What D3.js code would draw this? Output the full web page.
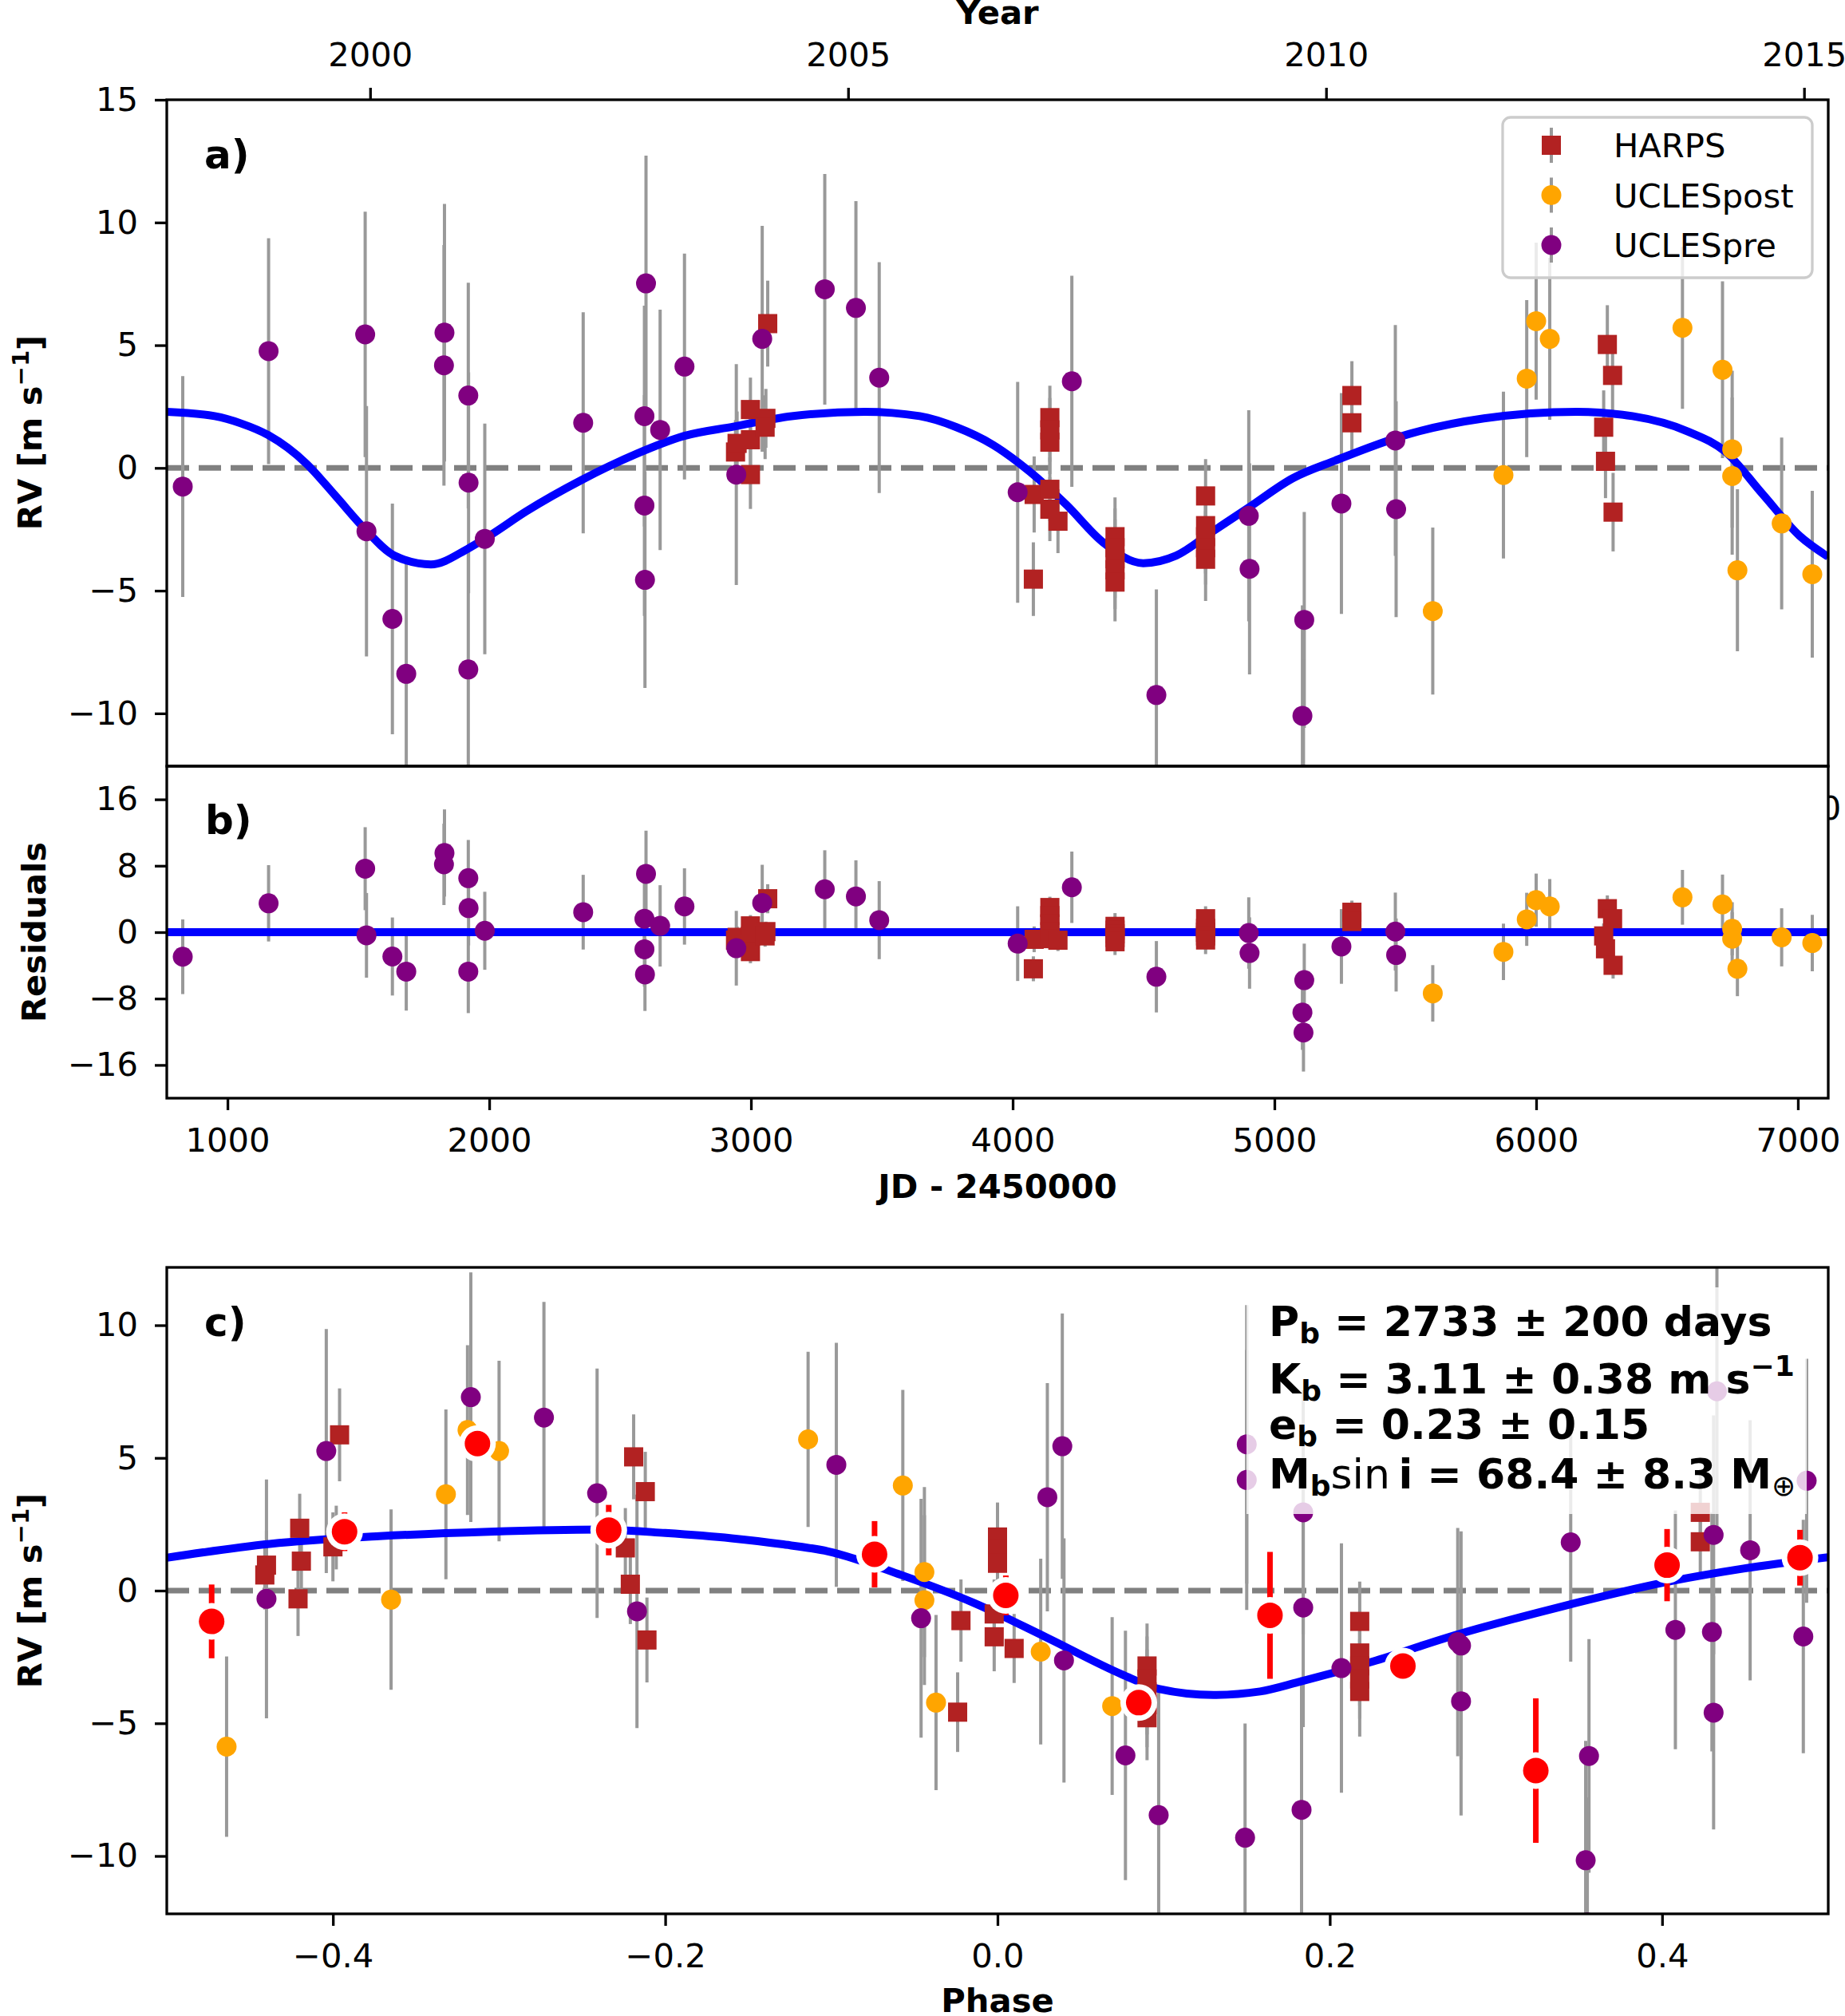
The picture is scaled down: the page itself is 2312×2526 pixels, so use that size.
<!DOCTYPE html>
<html lang="en">
<head>
<meta charset="UTF-8"/>
<script src="https://d3js.org/d3.v7.min.js"></script>
<style>
body { margin: 0; background: #fff; }
svg { display: block; font-family: 'DejaVu Sans', sans-serif; }
text { fill: #000; }
.tick text { font-size: 41.7px; font-family: 'DejaVu Sans', sans-serif; }
.tick line { stroke: #000; stroke-width: 3.3; }
.axis_title { font-size: 41.7px; font-weight: bold; }
.panel_label { font-size: 50px; font-weight: bold; }
.legend text { font-size: 41.7px; }
.params text { font-size: 52px; font-weight: bold; }
</style>
</head>
<body>
<svg id="fig" width="2312" height="2526"></svg>
<script>
// ---- data: [JD-2450000, RV, err, residual]
const harps = [
  [2941, 0.65, 1.3, -0.96], [2947, 1.0, 1.3, -0.62], [2998, 2.38, 1.3, 0.76],
  [2998, 1.15, 1.5, -0.5], [2998, -0.27, 1.4, -2.34], [3057, 2.02, 1.2, 0.07],
  [3054, 1.66, 1.3, -0.45], [3064, 5.88, 1.75, 4.03],
  [4082, -1.08, 1.55, -0.86], [4079, -4.53, 1.5, -4.41],
  [4142, 2.05, 1.3, 2.97], [4142, 1.55, 1.3, 2.0], [4142, 1.05, 1.3, 1.0],
  [4142, -0.87, 1.3, 0.05], [4142, -1.68, 1.3, -0.78], [4173, -2.17, 1.3, -0.97],
  [4391, -2.8, 1.6, 0.7], [4391, -3.25, 1.6, 0.25], [4391, -3.7, 1.6, -0.2],
  [4391, -4.15, 1.6, -0.65], [4391, -4.65, 1.6, -1.15],
  [4737, -1.14, 1.5, 1.62], [4737, -2.35, 1.5, 0.46], [4737, -2.8, 1.5, 0.0],
  [4737, -3.25, 1.5, -0.45], [4737, -3.72, 1.7, -0.94],
  [5296, 2.95, 1.4, 2.4], [5296, 1.84, 1.4, 1.29],
  [6272, 5.03, 1.6, 2.83], [6292, 3.77, 1.5, 1.62], [6258, 1.66, 1.5, -0.45],
  [6265, 0.27, 1.5, -2.0], [6294, -1.8, 1.6, -3.99]
];
const uclesPost = [
  [5605, -5.83, 3.4, -7.37], [5875, -0.29, 3.4, -2.37], [5964, 3.64, 3.2, 1.55],
  [6000, 5.98, 3.2, 3.86], [6052, 5.26, 3.3, 3.1], [6559, 5.71, 3.3, 4.2],
  [6712, 4.0, 3.6, 3.34], [6749, 0.76, 3.2, 0.41], [6749, -0.33, 3.2, -0.79],
  [6769, -4.17, 3.3, -4.41], [6938, -2.26, 3.5, -0.62], [7055, -4.33, 3.4, -1.31]
];
const uclesPre = [
  [829, -0.76, 4.5, -2.96], [1157, 4.76, 4.6, 3.48], [1526, 5.44, 5.0, 7.65],
  [1531, -2.58, 5.1, -0.38], [1630, -6.15, 4.7, -2.93], [1683, -8.39, 4.7, -4.75],
  [1829, 5.51, 5.25, 9.54], [1827, 4.18, 4.9, 8.17], [1920, 2.95, 4.6, 6.51],
  [1921, -0.6, 4.5, 2.9], [1920, -8.21, 5.0, -4.75], [1983, -2.89, 4.7, 0.17],
  [2359, 1.84, 4.5, 2.41], [2599, 7.52, 5.2, 7.03], [2593, 2.11, 4.5, 1.62],
  [2593, -1.53, 4.5, -2.06], [2595, -4.56, 4.4, -5.09], [2653, 1.55, 4.9, 0.76],
  [2746, 4.13, 4.6, 3.1], [2944, -0.27, 4.5, -1.93], [3043, 5.26, 4.6, 3.52],
  [3282, 7.28, 4.7, 5.17], [3401, 6.52, 4.35, 4.31], [3490, 3.68, 4.7, 1.45],
  [4019, -0.99, 4.5, -1.38], [4226, 3.53, 4.3, 5.41], [4549, -9.25, 4.3, -5.37],
  [4902, -1.95, 4.3, -0.1], [4905, -4.11, 4.3, -2.51], [5114, -6.19, 4.4, -5.78],
  [5107, -10.1, 4.5, -9.68], [5111, -12.5, 4.7, -12.09], [5256, -1.45, 4.5, -1.72],
  [5462, 1.12, 4.7, 0.07], [5465, -1.68, 4.4, -2.75]
];

// ---- phase folded data: [phase, RV, err]
const harpsPhase = [
  [-0.440, 0.96, 1.3], [-0.441, 0.59, 1.3], [-0.420, 2.35, 1.3], [-0.419, 1.11, 1.5],
  [-0.421, -0.31, 1.4], [-0.396, 5.87, 1.75], [-0.400, 1.65, 1.3], [-0.398, 2.0, 1.2],
  [0.000, 2.02, 1.3], [0.000, 1.55, 1.3], [0.000, 1.03, 1.3], [-0.002, -0.88, 1.3],
  [-0.002, -1.74, 1.3], [0.010, -2.18, 1.3], [-0.022, -1.13, 1.55], [-0.024, -4.58, 1.5],
  [0.090, -2.84, 1.6], [0.090, -3.33, 1.6], [0.090, -3.82, 1.6], [0.090, -4.3, 1.6], [0.090, -4.79, 1.6],
  [0.218, -1.16, 1.5], [0.218, -2.35, 1.5], [0.218, -2.84, 1.5], [0.218, -3.33, 1.5], [0.218, -3.8, 1.7],
  [0.423, 2.95, 1.4], [0.423, 1.84, 1.4],
  [-0.219, 5.04, 1.6], [-0.212, 3.73, 1.5], [-0.224, 1.61, 1.5], [-0.221, 0.24, 1.5], [-0.211, -1.86, 1.6]
];
const uclesPostPhase = [
  [-0.464, -5.88, 3.4], [-0.365, -0.34, 3.4], [-0.332, 3.63, 3.2], [-0.319, 6.05, 3.2],
  [-0.300, 5.26, 3.4], [-0.114, 5.70, 3.3], [-0.057, 3.96, 3.6], [-0.044, 0.70, 3.2],
  [-0.044, -0.36, 3.2], [-0.037, -4.22, 3.3], [0.026, -2.30, 3.5], [0.069, -4.35, 3.35]
];
const uclesPrePhase = [
  [-0.440, -0.31, 4.5], [-0.404, 5.26, 4.6], [-0.317, 7.29, 4.7], [-0.273, 6.52, 4.36],
  [-0.241, 3.67, 4.7], [-0.217, -0.78, 4.4], [-0.097, 4.74, 4.6], [-0.046, -1.04, 4.5],
  [0.030, 3.52, 4.3], [0.039, 5.44, 5.0], [0.040, -2.63, 4.6], [0.077, -6.21, 4.7],
  [0.097, -8.46, 4.7], [0.149, -9.31, 4.3], [0.150, 5.51, 5.25], [0.150, 4.17, 4.9],
  [0.184, 2.95, 4.6], [0.184, -0.64, 4.5], [0.183, -8.26, 5.0], [0.207, -2.92, 4.7],
  [0.277, -1.94, 4.3], [0.279, -2.07, 4.3], [0.279, -4.17, 4.3], [0.345, 1.82, 4.5],
  [0.356, -6.23, 4.4], [0.354, -10.16, 4.5], [0.355, -12.5, 4.7], [0.408, -1.48, 4.5],
  [0.431, 2.10, 4.5], [0.430, -1.56, 4.5], [0.431, -4.6, 4.4], [0.433, 7.51, 5.2],
  [0.453, 1.52, 4.9], [0.485, -1.73, 4.4], [0.487, 4.14, 4.6]
];
const binned = [
  [-0.473, -1.16, 1.39], [-0.393, 2.22, 0.73], [-0.313, 5.54, 0.5], [-0.234, 2.28, 0.95],
  [-0.074, 1.37, 1.25], [0.005, -0.18, 0.75], [0.085, -4.22, 0.5], [0.164, -0.93, 2.39],
  [0.244, -2.84, 0.5], [0.324, -6.78, 2.72], [0.403, 0.96, 1.36], [0.483, 1.24, 1.05]
];

// ---- model curve
const modelJD = [768, 951, 1050, 1157, 1230, 1301, 1413, 1525, 1637, 1777, 1917, 2001, 2141, 2351,
  2561, 2743, 2936, 3155, 3435, 3645, 3785, 3925, 4065, 4205, 4345, 4499, 4625, 4765, 4905, 5070,
  5232, 5516, 5800, 6155, 6368, 6581, 6722, 6864, 7006, 7116];
const modelRV = [2.29, 2.11, 1.82, 1.33, 0.82, 0.18, -1.14, -2.49, -3.57, -3.93, -3.3, -2.76, -1.77, -0.5,
  0.57, 1.3, 1.69, 2.11, 2.29, 2.11, 1.66, 0.94, -0.15, -1.5, -3.03, -3.88, -3.57, -2.58, -1.59, -0.42,
  0.3, 1.39, 2.02, 2.29, 2.11, 1.48, 0.67, -1.05, -2.76, -3.62];
const modelPhase = [-0.5, -0.438, -0.372, -0.306, -0.240, -0.2, -0.16, -0.13, -0.102, -0.058, -0.014,
  0.030, 0.075, 0.097, 0.130, 0.158, 0.181, 0.226, 0.270, 0.337, 0.404, 0.449, 0.5];
const modelPhaseRV = [1.24, 1.76, 2.05, 2.22, 2.30, 2.17, 1.97, 1.75, 1.48, 0.59, -0.47,
  -1.78, -3.16, -3.70, -3.93, -3.8, -3.45, -2.67, -1.78, -0.64, 0.34, 0.83, 1.26];

const yTicksA = [-10, -5, 0, 5, 10, 15];
const yTicksB = [-16, -8, 0, 8, 16];
const yTicksC = [-10, -5, 0, 5, 10];
const jdTicks = [1000, 2000, 3000, 4000, 5000, 6000, 7000];
const yearTicks = [2000, 2005, 2010, 2015];
const phaseTicks = [-0.4, -0.2, 0.0, 0.2, 0.4];

// ---- layout
const L = 209, R = 2291;
const aTop = 125, aBot = 960, bBot = 1376, cTop = 1588, cBot = 2398;
const GRAY = '#999999', PURPLE = '#800080', ORANGE = '#ffa500', FIREBRICK = '#b22222';

const svg = d3.select('#fig');
svg.append('rect').attr('width', 2312).attr('height', 2526).attr('fill', '#fff');

const x = d3.scaleLinear().domain([768, 7116]).range([L, R]);
const xYear = d3.scaleLinear().domain([1997.873, 2015.253]).range([L, R]);
const ya = d3.scaleLinear().domain([-12.15, 15]).range([aBot, aTop]);
const yb = d3.scaleLinear().domain([-20, 20]).range([bBot, aBot]);
const xc = d3.scaleLinear().domain([-0.5, 0.5]).range([L, R]);
const yc = d3.scaleLinear().domain([-12.18, 12.18]).range([cBot, cTop]);

const minus = d => (d < 0 ? '\u2212' : '') + Math.abs(d);

const defs = svg.append('defs');
function clip(id, y0, y1) {
  defs.append('clipPath').attr('id', id).append('rect')
    .attr('x', L).attr('y', y0).attr('width', R - L).attr('height', y1 - y0);
}
clip('clipA', aTop, aBot); clip('clipB', aBot, bBot); clip('clipC', cTop, cBot);
defs.append('clipPath').attr('id', 'clipStray').append('rect')
  .attr('x', R + 1).attr('y', aBot).attr('width', 30).attr('height', 200);

function styleAxis(g) {
  g.select('.domain').remove();
  g.selectAll('.tick text').attr('fill', '#000');
}

// ---- axes
svg.append('g').attr('transform', `translate(${L},0)`)
  .call(d3.axisLeft(ya).tickValues(yTicksA).tickFormat(minus).tickSize(15).tickPadding(21)).call(styleAxis);
svg.append('g').attr('transform', `translate(${L},0)`)
  .call(d3.axisLeft(yb).tickValues(yTicksB).tickFormat(minus).tickSize(15).tickPadding(21)).call(styleAxis);
svg.append('g').attr('transform', `translate(${L},0)`)
  .call(d3.axisLeft(yc).tickValues(yTicksC).tickFormat(minus).tickSize(15).tickPadding(21)).call(styleAxis);
svg.append('g').attr('transform', `translate(0,${aTop})`)
  .call(d3.axisTop(xYear).tickValues(yearTicks).tickFormat(d3.format('d')).tickSize(15).tickPadding(27)).call(styleAxis);
svg.append('g').attr('transform', `translate(0,${bBot})`)
  .call(d3.axisBottom(x).tickValues(jdTicks).tickFormat(d3.format('d')).tickSize(15).tickPadding(22)).call(styleAxis);
svg.append('g').attr('transform', `translate(0,${cBot})`)
  .call(d3.axisBottom(xc).tickValues(phaseTicks).tickFormat(d3.format('.1f')).tickSize(15).tickPadding(22)).call(styleAxis);

// clipped leftover tick label at the right of panel b
svg.append('text').attr('clip-path', 'url(#clipStray)')
  .attr('x', 2294).attr('y', 1027).attr('text-anchor', 'middle')
  .style('font-size', '41.7px').text('0');

// ---- drawing helpers
function bars(g, data, xs, ys, color, w) {
  g.selectAll(null).data(data).enter().append('line')
    .attr('x1', d => xs(d[0])).attr('x2', d => xs(d[0]))
    .attr('y1', d => ys(d[1] - d[2])).attr('y2', d => ys(d[1] + d[2]))
    .attr('stroke', color).attr('stroke-width', w);
}
function marks(g, data, xs, ys, shape, color) {
  if (shape === 'square') {
    g.selectAll(null).data(data).enter().append('rect')
      .attr('x', d => xs(d[0]) - 12).attr('y', d => ys(d[1]) - 12)
      .attr('width', 24).attr('height', 24).attr('fill', color);
  } else {
    g.selectAll(null).data(data).enter().append('circle')
      .attr('cx', d => xs(d[0])).attr('cy', d => ys(d[1])).attr('r', 12.5).attr('fill', color);
  }
}
const series = [
  { name: 'HARPS', a: harps, c: harpsPhase, shape: 'square', color: FIREBRICK },
  { name: 'UCLESpost', a: uclesPost, c: uclesPostPhase, shape: 'circle', color: ORANGE },
  { name: 'UCLESpre', a: uclesPre, c: uclesPrePhase, shape: 'circle', color: PURPLE }
];
function zeroDash(g, ys) {
  g.append('line').attr('x1', L).attr('x2', R).attr('y1', ys(0)).attr('y2', ys(0))
    .attr('stroke', '#808080').attr('stroke-width', 7).attr('stroke-dasharray', '28 12');
}

// ---- panel a
const ga = svg.append('g').attr('clip-path', 'url(#clipA)');
zeroDash(ga, ya);
series.forEach(s => bars(ga, s.a, x, ya, GRAY, 4));
ga.append('path').datum(modelJD.map((d, i) => [d, modelRV[i]]))
  .attr('d', d3.line().x(d => x(d[0])).y(d => ya(d[1])).curve(d3.curveMonotoneX))
  .attr('fill', 'none').attr('stroke', '#0000ff').attr('stroke-width', 10);
series.forEach(s => marks(ga, s.a, x, ya, s.shape, s.color));

// legend
const lg = svg.append('g').attr('class', 'legend');
lg.append('rect').attr('x', 1883).attr('y', 147).attr('width', 388).attr('height', 201).attr('rx', 10)
  .attr('fill', '#fff').attr('fill-opacity', 0.8).attr('stroke', '#cccccc').attr('stroke-width', 3.3);
series.forEach((s, i) => {
  const cy = 182 + i * 62.5;
  lg.append('line').attr('x1', 1944).attr('x2', 1944).attr('y1', cy - 22).attr('y2', cy + 22)
    .attr('stroke', GRAY).attr('stroke-width', 4);
  if (s.shape === 'square') {
    lg.append('rect').attr('x', 1932).attr('y', cy - 12).attr('width', 24).attr('height', 24).attr('fill', s.color);
  } else {
    lg.append('circle').attr('cx', 1944).attr('cy', cy).attr('r', 12.5).attr('fill', s.color);
  }
  lg.append('text').attr('x', 2022).attr('y', cy + 15).text(s.name);
});

// ---- panel b
const gb = svg.append('g').attr('clip-path', 'url(#clipB)');
series.forEach(s => bars(gb, s.a.map(d => [d[0], d[3], d[2]]), x, yb, GRAY, 4));
gb.append('line').attr('x1', L).attr('x2', R).attr('y1', yb(0)).attr('y2', yb(0))
  .attr('stroke', '#0000ff').attr('stroke-width', 10);
series.forEach(s => marks(gb, s.a.map(d => [d[0], d[3], d[2]]), x, yb, s.shape, s.color));

// ---- panel c
const gc = svg.append('g').attr('clip-path', 'url(#clipC)');
zeroDash(gc, yc);
series.forEach(s => bars(gc, s.c, xc, yc, GRAY, 4));
gc.append('path').datum(modelPhase.map((d, i) => [d, modelPhaseRV[i]]))
  .attr('d', d3.line().x(d => xc(d[0])).y(d => yc(d[1])).curve(d3.curveMonotoneX))
  .attr('fill', 'none').attr('stroke', '#0000ff').attr('stroke-width', 10);
series.forEach(s => marks(gc, s.c, xc, yc, s.shape, s.color));
bars(gc, binned, xc, yc, '#ff0000', 7);
gc.selectAll(null).data(binned).enter().append('circle')
  .attr('cx', d => xc(d[0])).attr('cy', d => yc(d[1])).attr('r', 23).attr('fill', '#fff');
gc.selectAll(null).data(binned).enter().append('circle')
  .attr('cx', d => xc(d[0])).attr('cy', d => yc(d[1])).attr('r', 16).attr('fill', '#ff0000');

// parameter box
const pg = svg.append('g').attr('class', 'params');
pg.append('rect').attr('x', 1562).attr('y', 1613).attr('width', 702).attr('height', 284)
  .attr('fill', '#fff').attr('fill-opacity', 0.8);
function paramLine(y, sym, rest, extra) {
  const t = pg.append('text').attr('x', 1590).attr('y', y);
  t.append('tspan').text(sym);
  t.append('tspan').attr('dy', 9).style('font-size', '36px').text('b');
  if (extra === 'sin') {
    t.append('tspan').attr('dy', -9).style('font-weight', 'normal').text('sin');
    t.append('tspan').text('\u2009i = 68.4 \u00b1 8.3 M');
    t.append('tspan').attr('dy', 9).style('font-size', '36px').style('font-weight', 'normal').text('\u2295');
  } else {
    t.append('tspan').attr('dy', -9).text(rest);
    if (extra === 'sup') {
      t.append('tspan').attr('dy', -22).style('font-size', '36px').text('\u22121');
    }
  }
}
paramLine(1674, 'P', ' = 2733 \u00b1 200 days');
paramLine(1746, 'K', ' = 3.11 \u00b1 0.38 m s', 'sup');
paramLine(1803, 'e', ' = 0.23 \u00b1 0.15');
paramLine(1865, 'M', '', 'sin');

// ---- frames
[[aTop, aBot], [aBot, bBot], [cTop, cBot]].forEach(([y0, y1]) => {
  svg.append('rect').attr('x', L).attr('y', y0).attr('width', R - L).attr('height', y1 - y0)
    .attr('fill', 'none').attr('stroke', '#000').attr('stroke-width', 3.3);
});

// ---- labels
function label(cls, txt, x0, y0) {
  svg.append('text').attr('class', cls).attr('x', x0).attr('y', y0).text(txt);
}
label('panel_label', 'a)', 256, 211);
label('panel_label', 'b)', 257, 1045);
label('panel_label', 'c)', 256, 1674);

svg.append('text').attr('class', 'axis_title').attr('x', 1250).attr('y', 30)
  .attr('text-anchor', 'middle').text('Year');
svg.append('text').attr('class', 'axis_title').attr('x', 1250).attr('y', 1501)
  .attr('text-anchor', 'middle').text('JD - 2450000');
svg.append('text').attr('class', 'axis_title').attr('x', 1250).attr('y', 2521)
  .attr('text-anchor', 'middle').text('Phase');

function rvLabel(cx, cy) {
  const t = svg.append('text').attr('class', 'axis_title')
    .attr('transform', `translate(${cx},${cy}) rotate(-90)`).attr('text-anchor', 'middle');
  t.append('tspan').text('RV [m s');
  t.append('tspan').attr('dy', -16).style('font-size', '29px').text('\u22121');
  t.append('tspan').attr('dy', 16).text(']');
}
rvLabel(52, 542);
rvLabel(52, 1993);
svg.append('text').attr('class', 'axis_title')
  .attr('transform', `translate(57,1168) rotate(-90)`).attr('text-anchor', 'middle').text('Residuals');
</script>
</body>
</html>
